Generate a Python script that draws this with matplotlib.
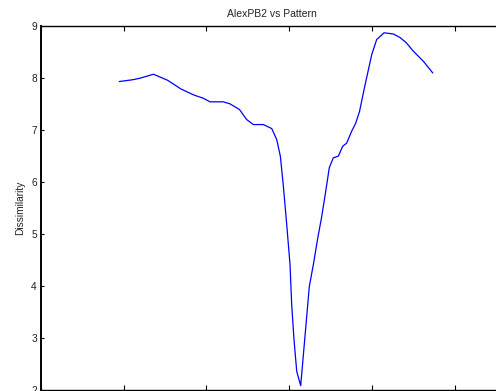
import matplotlib
matplotlib.use("Agg")
import matplotlib.pyplot as plt

plt.rcParams['font.family'] = ['Liberation Sans', 'DejaVu Sans']

# Dissimilarity curve: frame offset vs dissimilarity score
offset = [9.47, 11.12, 11.97, 13.60, 15.30, 16.93, 18.50, 19.62, 20.44, 22.04,
          22.85, 24.00, 24.87, 25.67, 26.88, 27.90, 28.50, 28.94, 29.32, 29.71,
          30.11, 30.31, 30.59, 30.92, 31.40, 32.44, 32.95, 33.43, 33.94, 34.40,
          34.86, 35.34, 35.95, 36.48, 36.96, 37.57, 38.03, 38.51, 39.06, 39.99,
          40.59, 41.48, 42.60, 43.41, 44.14, 45.02, 46.23, 47.36]
dissimilarity = [7.923, 7.958, 7.987, 8.063, 7.948, 7.779, 7.663, 7.602, 7.533, 7.533,
                 7.494, 7.385, 7.192, 7.096, 7.096, 7.019, 6.808, 6.487, 5.885, 5.173,
                 4.404, 3.635, 2.962, 2.352, 2.077, 3.981, 4.423, 4.885, 5.327, 5.788,
                 6.269, 6.456, 6.490, 6.679, 6.740, 6.971, 7.115, 7.346, 7.769, 8.442,
                 8.731, 8.860, 8.837, 8.769, 8.673, 8.506, 8.313, 8.090]

x_ticks = [0, 10, 20, 30, 40, 50]
y_ticks = [2, 3, 4, 5, 6, 7, 8, 9]

W, H = 496, 391
fig = plt.figure(figsize=(W / 100, H / 100), dpi=100)
ax = fig.add_axes([41 / W, 1.3 / H, (503 - 41) / W, (389.7 - 25.5) / H])

ax.plot(offset, dissimilarity, color='#0000ff', linewidth=0.9)

ax.set_xlim(0, 55.86)
ax.set_ylim(2, 9)
ax.set_xticks(x_ticks)
ax.set_yticks(y_ticks)

ax.spines['right'].set_visible(False)
for side in ('left', 'top', 'bottom'):
    ax.spines[side].set_linewidth(1.0)
    ax.spines[side].set_color('black')
ax.spines['left'].set_linewidth(1.4)

ax.tick_params(axis='x', direction='in', length=3.5, width=0.8, top=True,
               labelbottom=False, labeltop=False)
ax.tick_params(axis='y', direction='in', length=2.5, width=0.8,
               labelsize=7.3, labelcolor='#222222', pad=3)

ax.set_title('AlexPB2 vs Pattern', fontsize=7.5, pad=6, color='#222222')
ax.set_ylabel('Dissimilarity', fontsize=7.3, labelpad=4, color='#222222')

fig.savefig('out.png', dpi=100)
